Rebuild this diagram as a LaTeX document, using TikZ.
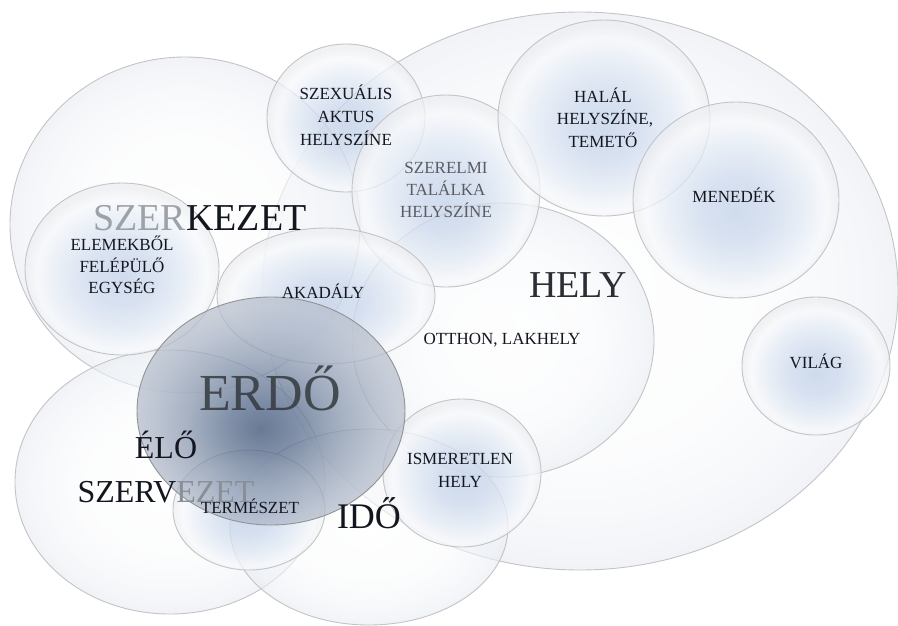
\documentclass[tikz,border=0pt]{standalone}
\usepackage{fontspec}
\setmainfont{Liberation Serif}
\usetikzlibrary{shapes.geometric}

\definecolor{txt}{HTML}{14161F}
\definecolor{rim}{HTML}{C2C4C8}
\definecolor{szergray}{HTML}{9CA2AA}
\definecolor{ezetgray}{HTML}{8A8E96}
\definecolor{erdotxt}{HTML}{34393F}

\pgfdeclareradialshading{glass}{\pgfpoint{0bp}{-3bp}}{rgb(0bp)=(0.76,0.82,0.91); rgb(8bp)=(0.80,0.85,0.93); rgb(16bp)=(0.89,0.92,0.96); rgb(22bp)=(0.97,0.975,0.985); rgb(25bp)=(0.93,0.935,0.945); rgb(50bp)=(0.93,0.935,0.945)}
\pgfdeclareradialshading{pale}{\pgfpoint{0bp}{0bp}}{rgb(0bp)=(1,1,1); rgb(15bp)=(0.98,0.985,0.99); rgb(23bp)=(0.93,0.945,0.965); rgb(25bp)=(0.91,0.92,0.94); rgb(50bp)=(0.91,0.92,0.94)}
\pgfdeclareradialshading{dark}{\pgfpoint{-2bp}{-4bp}}{rgb(0bp)=(0.20,0.28,0.43); rgb(6bp)=(0.32,0.40,0.53); rgb(14bp)=(0.52,0.58,0.67); rgb(21bp)=(0.66,0.70,0.77); rgb(25bp)=(0.72,0.75,0.80); rgb(50bp)=(0.72,0.75,0.80)}

\tikzset{
  blob/.style={ellipse, inner sep=0pt, outer sep=0pt, draw=rim, line width=0.9pt},
  bigblob/.style={blob, shade, shading=pale, fill opacity=0.6},
  smallblob/.style={blob, shade, shading=glass, fill opacity=0.75},
  darkblob/.style={blob, shade, shading=dark, fill opacity=0.72, draw=rim!75!black},
  lbl/.style={font=\fontsize{17}{20}\selectfont, text=txt, anchor=base, inner sep=0pt},
  big/.style={lbl, font=\fontsize{#1}{#1}\selectfont},
}

\begin{document}
\begin{tikzpicture}[x=1pt,y=-1pt]
\useasboundingbox (0,0) rectangle (898,625);
\fill[white] (0,0) rectangle (898,625);

% large pale ellipses
\node[bigblob, minimum width=636pt, minimum height=558pt] (helyout) at (580,291) {};
\node[bigblob, minimum width=350pt, minimum height=336pt] (szerk) at (185,225) {};
\node[bigblob, minimum width=310pt, minimum height=264pt] (elo) at (170,482) {};
\node[bigblob, minimum width=302pt, minimum height=274pt] (helyin) at (503,340) {};
\node[bigblob, minimum width=278pt, minimum height=196pt] (ido) at (369,527) {};

% small glassy circles
\node[smallblob, minimum width=158pt, minimum height=148pt] (szex) at (346,118) {};
\node[smallblob, minimum width=188pt, minimum height=192pt] (szerel) at (446,191) {};
\node[smallblob, minimum width=212pt, minimum height=196pt] (halal) at (604,118) {};
\node[smallblob, minimum width=206pt, minimum height=196pt] (mened) at (736,200) {};
\node[smallblob, minimum width=148pt, minimum height=138pt] (vilag) at (816,366) {};
\node[smallblob, minimum width=194pt, minimum height=172pt] (elem) at (122,269) {};
\node[smallblob, minimum width=218pt, minimum height=136pt] (akad) at (326,296) {};
\node[smallblob, minimum width=158pt, minimum height=148pt] (ismer) at (462,473) {};
\node[smallblob, minimum width=152pt, minimum height=120pt] (term) at (249,510) {};

% forest (semi-transparent, on top)
\node[darkblob, minimum width=268pt, minimum height=228pt] (erdo) at (271,411) {};

% small labels
\node[lbl] (szex1) at (346,99) {SZEXUÁLIS};
\node[lbl] (szex2) at (346,122) {AKTUS};
\node[lbl] (szex3) at (346,145) {HELYSZÍNE};

\node[lbl, text=txt!70] (szer1) at (446,173) {SZERELMI};
\node[lbl, text=txt!70] (szer2) at (446,195) {TALÁLKA};
\node[lbl, text=txt!70] (szer3) at (446,217) {HELYSZÍNE};

\node[lbl] (hal1) at (603,102) {HALÁL};
\node[lbl] (hal2) at (605,124) {HELYSZÍNE,};
\node[lbl] (hal3) at (603,147) {TEMETŐ};

\node[lbl] (menl) at (734,202) {MENEDÉK};
\node[lbl] (vill) at (816,368) {VILÁG};

\node[lbl] (elem1) at (122,250) {ELEMEKBŐL};
\node[lbl] (elem2) at (122,272) {FELÉPÜLŐ};
\node[lbl] (elem3) at (122,293) {EGYSÉG};

\node[lbl] (akadl) at (323,298) {AKADÁLY};
\node[lbl] (otthon) at (502,344) {OTTHON, LAKHELY};

\node[lbl] (ism1) at (460,464) {ISMERETLEN};
\node[lbl] (ism2) at (460,487) {HELY};

\node[lbl] (terml) at (250,513) {TERMÉSZET};

% big labels
\node[big=38] (szerkl) at (200,230) {\textcolor{szergray}{SZER}KEZET};
\node[big=38, text=txt!90] (helyl) at (578,297) {HELY};
\node[big=52, text=erdotxt, text opacity=0.85] (erdol) at (270,410) {ERDŐ};
\node[big=32] (elol) at (166,458) {ÉLŐ};
\node[big=32] (szervl) at (166,502) {SZERV\textcolor{ezetgray}{EZET}};
\node[big=36] (idol) at (369,528) {IDŐ};
\end{tikzpicture}
\end{document}
